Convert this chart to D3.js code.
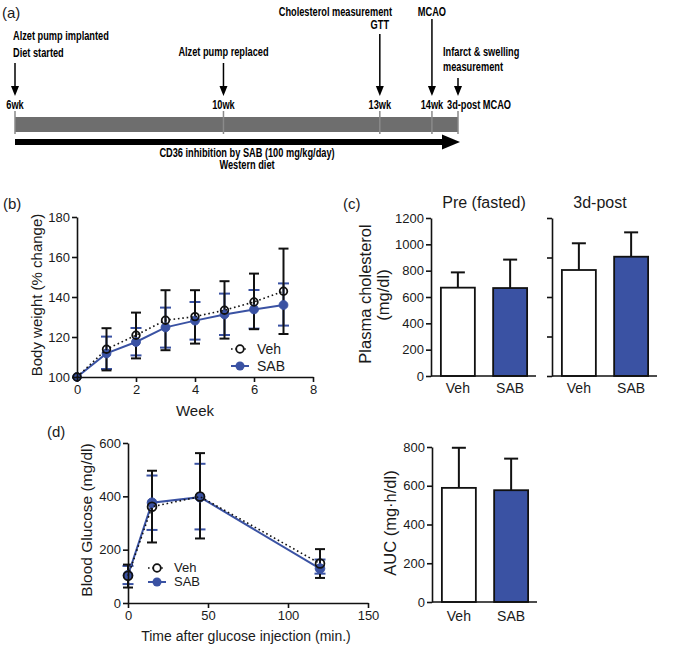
<!DOCTYPE html>
<html><head><meta charset="utf-8">
<script src="https://cdn.jsdelivr.net/npm/d3@7"></script>
<style>
body{margin:0;background:#fff}
svg text{font-family:"Liberation Sans",Arial,sans-serif;fill:#1a1a1a}
.narrow{font-weight:bold;fill:#000}
</style></head><body>
<svg id="chart" width="700" height="647"></svg>
<script>
// ---------- DATA ----------
const timelineWeeks = [6, 10, 13, 14, 14.5];
const timelineLabels = ["6wk", "10wk", "13wk", "14wk", "3d-post MCAO"];
const timelineEvents = [["Alzet pump implanted", "Diet started"], ["Alzet pump replaced"], ["Cholesterol measurement", "GTT"], ["MCAO"], ["Infarct & swelling", "measurement"]];
const treatmentText = ["CD36 inhibition by SAB (100 mg/kg/day)", "Western diet"];

const weeks = [0, 1, 2, 3, 4, 5, 6, 7];
const bwVeh   = [100, 113.9, 120.9, 128.4, 130.2, 133.4, 137.5, 142.9];
const bwVehLo = [100, 103.3, 109.3, 113.4, 116.7, 119.2, 123.9, 121.5];
const bwVehHi = [100, 124.4, 132.2, 143.4, 143.4, 147.9, 151.7, 164.2];
const bwSab   = [100, 111.8, 117.5, 124.8, 128.2, 131.3, 133.8, 136.0];
const bwSabLo = [100, 104.0, 110.8, 114.7, 118.7, 121.0, 124.2, 125.7];
const bwSabHi = [100, 120.2, 124.5, 134.7, 137.5, 141.7, 143.5, 146.8];
const bwTicksY = [100, 120, 140, 160, 180];
const bwTicksX = [0, 2, 4, 6, 8];

const groups = ["Veh", "SAB"];
const cholPre = [671, 668];
const cholPreErr = [787, 884];
const cholPost = [805, 906];
const cholPostErr = [1008, 1091];
const cholTicks = [0, 200, 400, 600, 800, 1000, 1200];
const cholPostTicks = [0, 300, 600, 900, 1200];

const gttTimes = [0, 15, 45, 120];
const gttVeh   = [102, 361, 399, 148];
const gttVehLo = [58, 227, 242, 94];
const gttVehHi = [144, 496, 562, 202];
const gttSab   = [104, 376, 397, 129];
const gttSabLo = [71, 274, 276, 110];
const gttSabHi = [139, 478, 522, 163];
const gttTicksY = [0, 200, 400, 600];
const gttTicksX = [0, 50, 100, 150];

const aucMean = [589, 577];
const aucErr = [796, 740];
const aucTicks = [0, 200, 400, 600, 800];

// ---------- DRAW ----------
const BLUE = "#3a52a3";
const svg = d3.select("#chart");

function label(x, y, t, opts = {}) {
  const el = svg.append("text").text(t)
    .attr("font-size", opts.size || 13)
    .attr("text-anchor", opts.anchor || "start");
  if (opts.cls) el.attr("class", opts.cls);
  if (opts.narrow) {
    el.attr("x", 0).attr("y", 0).attr("transform", `translate(${x},${y}) scale(${opts.narrow},1)`);
  } else {
    el.attr("x", x).attr("y", y);
    if (opts.rotate) el.attr("transform", `rotate(-90,${x},${y})`);
  }
  return el;
}
const NW = 0.77; // horizontal compression for the bold condensed timeline font
function nlabel(x, y, t, anchor) {
  return label(x, y, t, {size: 12, anchor: anchor || "start", cls: "narrow", narrow: NW});
}

// ---- Panel (a): timeline ----
label(2, 18, "(a)", {size: 15});
const tx = d3.scaleLinear().domain([6, 14.5]).range([15, 458]);
const ga = svg.append("g");
ga.append("rect").attr("x", tx(6)).attr("y", 117).attr("width", tx(14.5) - tx(6)).attr("height", 15).attr("fill", "#6e6e6e");
timelineWeeks.forEach((w, i) => {
  ga.append("line").attr("x1", tx(w)).attr("x2", tx(w)).attr("y1", 111).attr("y2", 134)
    .attr("stroke", "#8a8a8a").attr("stroke-width", 1.5);
  const last = i === timelineWeeks.length - 1;
  nlabel(last ? tx(w) - 11 : tx(w), 109, timelineLabels[i], last ? "start" : "middle");
});
const arrowTop = [63, 63, 34, 19, 78];
timelineWeeks.forEach((w, i) => {
  const x = tx(w);
  ga.append("line").attr("x1", x).attr("x2", x).attr("y1", arrowTop[i]).attr("y2", 88).attr("stroke", "#000").attr("stroke-width", 1.5);
  ga.append("path").attr("d", `M${x - 4},86 L${x + 4},86 L${x},96 Z`).attr("fill", "#000");
});
// event labels
nlabel(13, 40, timelineEvents[0][0]);
nlabel(13, 57, timelineEvents[0][1]);
nlabel(tx(10), 56, timelineEvents[1][0], "middle");
nlabel(392, 16, timelineEvents[2][0], "end");
nlabel(tx(13), 29, timelineEvents[2][1], "middle");
nlabel(tx(14), 16, timelineEvents[3][0], "middle");
nlabel(443, 56, timelineEvents[4][0]);
nlabel(443, 71, timelineEvents[4][1]);
// treatment arrow
ga.append("rect").attr("x", tx(6)).attr("y", 139).attr("width", tx(14.5) - 15 - tx(6)).attr("height", 6).attr("fill", "#000");
ga.append("path").attr("d", `M${tx(14.5) - 16},134.5 L${tx(14.5) + 2},142 L${tx(14.5) - 16},149.5 Z`).attr("fill", "#000");
nlabel(247, 157, treatmentText[0], "middle");
nlabel(247, 169, treatmentText[1], "middle");

// ---- axis helpers ----
function styleAxis(g) {
  g.selectAll("path.domain").attr("stroke", "#111").attr("stroke-width", 1.6);
  g.selectAll(".tick line").attr("stroke", "#111").attr("stroke-width", 1.6);
  g.selectAll(".tick text").attr("font-size", 13).attr("fill", "#1a1a1a")
    .style("font-family", '"Liberation Sans",Arial,sans-serif');
}
function yAxis(y, x, ticks, fmt) {
  const ax = d3.axisLeft(y).tickValues(ticks).tickSize(5).tickPadding(2).tickSizeOuter(0)
    .tickFormat(fmt !== undefined ? fmt : d3.format("d"));
  const g = svg.append("g").attr("transform", `translate(${x},0)`).call(ax);
  styleAxis(g);
  return g;
}
function xAxis(x, y, ticks) {
  const g = svg.append("g").attr("transform", `translate(0,${y})`)
    .call(d3.axisBottom(x).tickValues(ticks).tickSize(5).tickPadding(3).tickSizeOuter(0).tickFormat(d3.format("d")));
  styleAxis(g);
  return g;
}

function errSeries(x, y, xs, lo, hi, color, cap, skipFirstErr) {
  const g = svg.append("g");
  xs.forEach((t, i) => {
    if (skipFirstErr && i === 0) return;
    const px = x(t);
    g.append("line").attr("x1", px).attr("x2", px).attr("y1", y(lo[i])).attr("y2", y(hi[i])).attr("stroke", color).attr("stroke-width", 2);
    [lo[i], hi[i]].forEach(v => g.append("line").attr("x1", px - cap).attr("x2", px + cap).attr("y1", y(v)).attr("y2", y(v)).attr("stroke", color).attr("stroke-width", 2));
  });
  return g;
}
function lineMarks(x, y, xs, mean, color, dotted, filled, r) {
  const g = svg.append("g");
  const ln = d3.line().x((d, i) => x(xs[i])).y(d => y(d));
  g.append("path").attr("d", ln(mean)).attr("fill", "none").attr("stroke", color)
    .attr("stroke-width", dotted ? 1.6 : 2).attr("stroke-dasharray", dotted ? "1.6,2.8" : null);
  mean.forEach((v, i) => {
    g.append("circle").attr("cx", x(xs[i])).attr("cy", y(v)).attr("r", r)
      .attr("fill", filled ? color : "none").attr("stroke", filled ? color : "#111").attr("stroke-width", filled ? 1 : 1.8);
  });
}
function legend(x, y, dy, fs) {
  const g = svg.append("g");
  g.append("line").attr("x1", x - 9).attr("x2", x + 8).attr("y1", y).attr("y2", y).attr("stroke", "#111").attr("stroke-width", 1.6).attr("stroke-dasharray", "1.6,2.8");
  g.append("circle").attr("cx", x).attr("cy", y).attr("r", 3.8).attr("fill", "#fff").attr("stroke", "#111").attr("stroke-width", 1.8);
  g.append("line").attr("x1", x - 9).attr("x2", x + 9).attr("y1", y + dy).attr("y2", y + dy).attr("stroke", BLUE).attr("stroke-width", 2);
  g.append("circle").attr("cx", x).attr("cy", y + dy).attr("r", 4.5).attr("fill", BLUE);
  label(x + 17, y + fs * 0.33, groups[0], {size: fs});
  label(x + 17, y + dy + fs * 0.33, groups[1], {size: fs});
}

// ---- Panel (b) ----
label(3, 209, "(b)", {size: 15});
const bx = d3.scaleLinear().domain([0, 8]).range([77, 313]);
const by = d3.scaleLinear().domain([100, 180]).range([377, 217]);
errSeries(bx, by, weeks, bwSabLo, bwSabHi, BLUE, 5.5, true);
errSeries(bx, by, weeks, bwVehLo, bwVehHi, "#111", 5, true);
lineMarks(bx, by, weeks, bwSab, BLUE, false, true, 4.4);
lineMarks(bx, by, weeks, bwVeh, "#111", true, false, 3.8);
yAxis(by, 77, bwTicksY);
xAxis(bx, 377, bwTicksX);
legend(240, 349, 17, 14);
label(42, 295, "Body weight (% change)", {size: 15, anchor: "middle", rotate: true});
label(195, 416, "Week", {size: 15, anchor: "middle"});

// ---- bar helper ----
function bars(x0, x1, y, means, errs) {
  const xb = d3.scaleBand().domain(groups).range([x0 + 1, x1]).paddingInner(0.35).paddingOuter(0.17);
  const g = svg.append("g");
  groups.forEach((gname, i) => {
    const cx = xb(gname) + xb.bandwidth() / 2;
    g.append("line").attr("x1", cx).attr("x2", cx).attr("y1", y(means[i])).attr("y2", y(errs[i])).attr("stroke", "#111").attr("stroke-width", 2);
    g.append("line").attr("x1", cx - 7).attr("x2", cx + 7).attr("y1", y(errs[i])).attr("y2", y(errs[i])).attr("stroke", "#111").attr("stroke-width", 2);
    g.append("rect").attr("x", xb(gname)).attr("y", y(means[i])).attr("width", xb.bandwidth()).attr("height", y(0) - y(means[i]))
      .attr("fill", i === 0 ? "#fff" : BLUE).attr("stroke", "#111").attr("stroke-width", 1.8);
  });
  g.append("line").attr("x1", x0).attr("x2", x1).attr("y1", y(0)).attr("y2", y(0)).attr("stroke", "#111").attr("stroke-width", 1.6);
  return xb;
}

// ---- Panel (c) ----
label(343, 209, "(c)", {size: 15});
const cy = d3.scaleLinear().domain([0, 1200]).range([376, 218]);
const xbL = bars(431, 536, cy, cholPre, cholPreErr);
yAxis(cy, 431, cholTicks);
const xbR = bars(552, 657, cy, cholPost, cholPostErr);
yAxis(cy, 552, cholPostTicks, "");
groups.forEach(gname => {
  label(xbL(gname) + xbL.bandwidth() / 2, 393, gname, {size: 14, anchor: "middle"});
  label(xbR(gname) + xbR.bandwidth() / 2, 393, gname, {size: 14, anchor: "middle"});
});
label(484, 208, "Pre (fasted)", {size: 16, anchor: "middle"});
label(600, 208, "3d-post", {size: 16, anchor: "middle"});
label(371, 294, "Plasma cholesterol", {size: 16.5, anchor: "middle", rotate: true});
label(389, 295, "(mg/dl)", {size: 16.5, anchor: "middle", rotate: true});

// ---- Panel (d) ----
label(47, 437, "(d)", {size: 15});
const dx = d3.scaleLinear().domain([0, 150]).range([128, 368]);
const dy = d3.scaleLinear().domain([0, 600]).range([603, 443]);
errSeries(dx, dy, gttTimes, gttSabLo, gttSabHi, BLUE, 5.5, false);
errSeries(dx, dy, gttTimes, gttVehLo, gttVehHi, "#111", 5, false);
lineMarks(dx, dy, gttTimes, gttSab, BLUE, false, true, 4.8);
lineMarks(dx, dy, gttTimes, gttVeh, "#111", true, false, 4.4);
yAxis(dy, 128, gttTicksY);
xAxis(dx, 603, gttTicksX);
legend(157, 568, 14, 13);
label(92, 520, "Blood Glucose (mg/dl)", {size: 15.5, anchor: "middle", rotate: true});
label(246, 641, "Time after glucose injection (min.)", {size: 14, anchor: "middle"});

// ---- AUC ----
const ay = d3.scaleLinear().domain([0, 800]).range([602, 447]);
const xbA = bars(432, 537, ay, aucMean, aucErr);
yAxis(ay, 432, aucTicks);
groups.forEach(gname => label(xbA(gname) + xbA.bandwidth() / 2, 621, gname, {size: 14, anchor: "middle"}));
label(396, 523, "AUC (mg\u00b7h/dl)", {size: 16.5, anchor: "middle", rotate: true});
</script>
</body></html>
